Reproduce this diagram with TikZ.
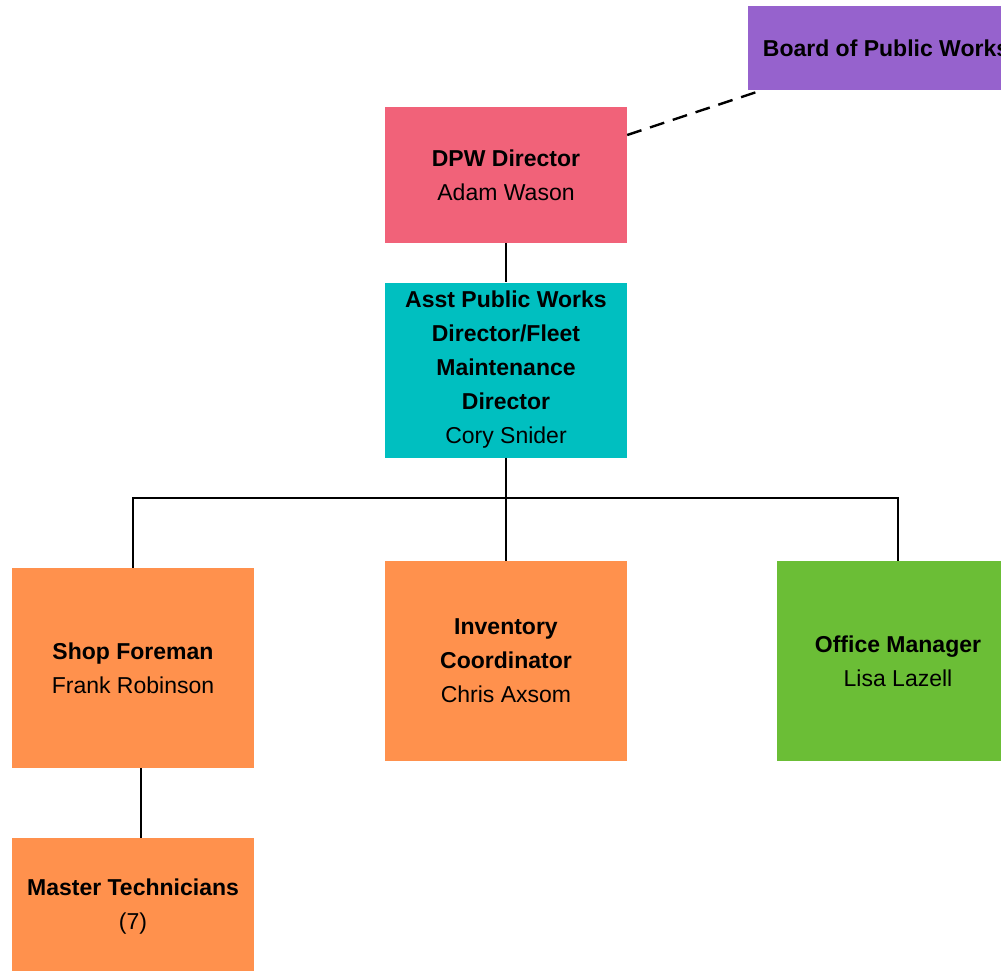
\documentclass[tikz,border=0pt]{standalone}
\usepackage{fontspec}
\setmainfont{Liberation Sans}
\definecolor{boardpurple}{RGB}{150,98,205}
\definecolor{dpwpink}{RGB}{241,98,121}
\definecolor{assteal}{RGB}{0,191,192}
\definecolor{staffore}{RGB}{255,145,77}
\definecolor{officegreen}{RGB}{107,190,54}
\begin{document}
\begin{tikzpicture}[x=1pt, y=-1pt,
	post/.style={rectangle, inner sep=0pt, minimum width=242pt, align=center,
		font=\fontsize{23}{34}\selectfont},
	link/.style={line width=2.4pt}]
	\clip (0,0) rectangle (1001,970);

	\node [post, fill=boardpurple, minimum width=276pt, minimum height=84pt] (board) at (886,48) {\textbf{Board of Public Works}};
	\node [post, fill=dpwpink, minimum height=136pt] (dpw) at (506,175) {\textbf{DPW Director}\\Adam Wason};
	\node [post, fill=assteal, minimum height=175pt] (asst) at (506,370) {\textbf{Asst Public Works}\\\textbf{Director/Fleet}\\\textbf{Maintenance}\\\textbf{Director}\\Cory Snider};
	\node [post, fill=staffore, minimum height=200pt] (shop) at (133,668) {\textbf{Shop Foreman}\\Frank Robinson};
	\node [post, fill=staffore, minimum height=200pt] (inv) at (506,661) {\textbf{Inventory}\\\textbf{Coordinator}\\Chris Axsom};
	\node [post, fill=officegreen, minimum height=200pt] (office) at (898,661) {\textbf{Office Manager}\\Lisa Lazell};
	\node [post, fill=staffore, minimum height=138pt] (master) at (133,907) {\textbf{Master Technicians}\\(7)};

	\coordinate (bus) at (506,498);
	\draw[link, dash pattern=on 15pt off 9pt] ([yshift=40pt]dpw.east) -- ([xshift=-124pt]board.south);
	\draw[link] (dpw.south) -- (asst.north);
	\draw[link] (asst.south) -- (bus) -- (inv.north);
	\draw[link] (shop.north) |- (bus) -| (office.north);
	\draw[link] ([xshift=8pt]shop.south) -- ([xshift=8pt]master.north);
\end{tikzpicture}
\end{document}
